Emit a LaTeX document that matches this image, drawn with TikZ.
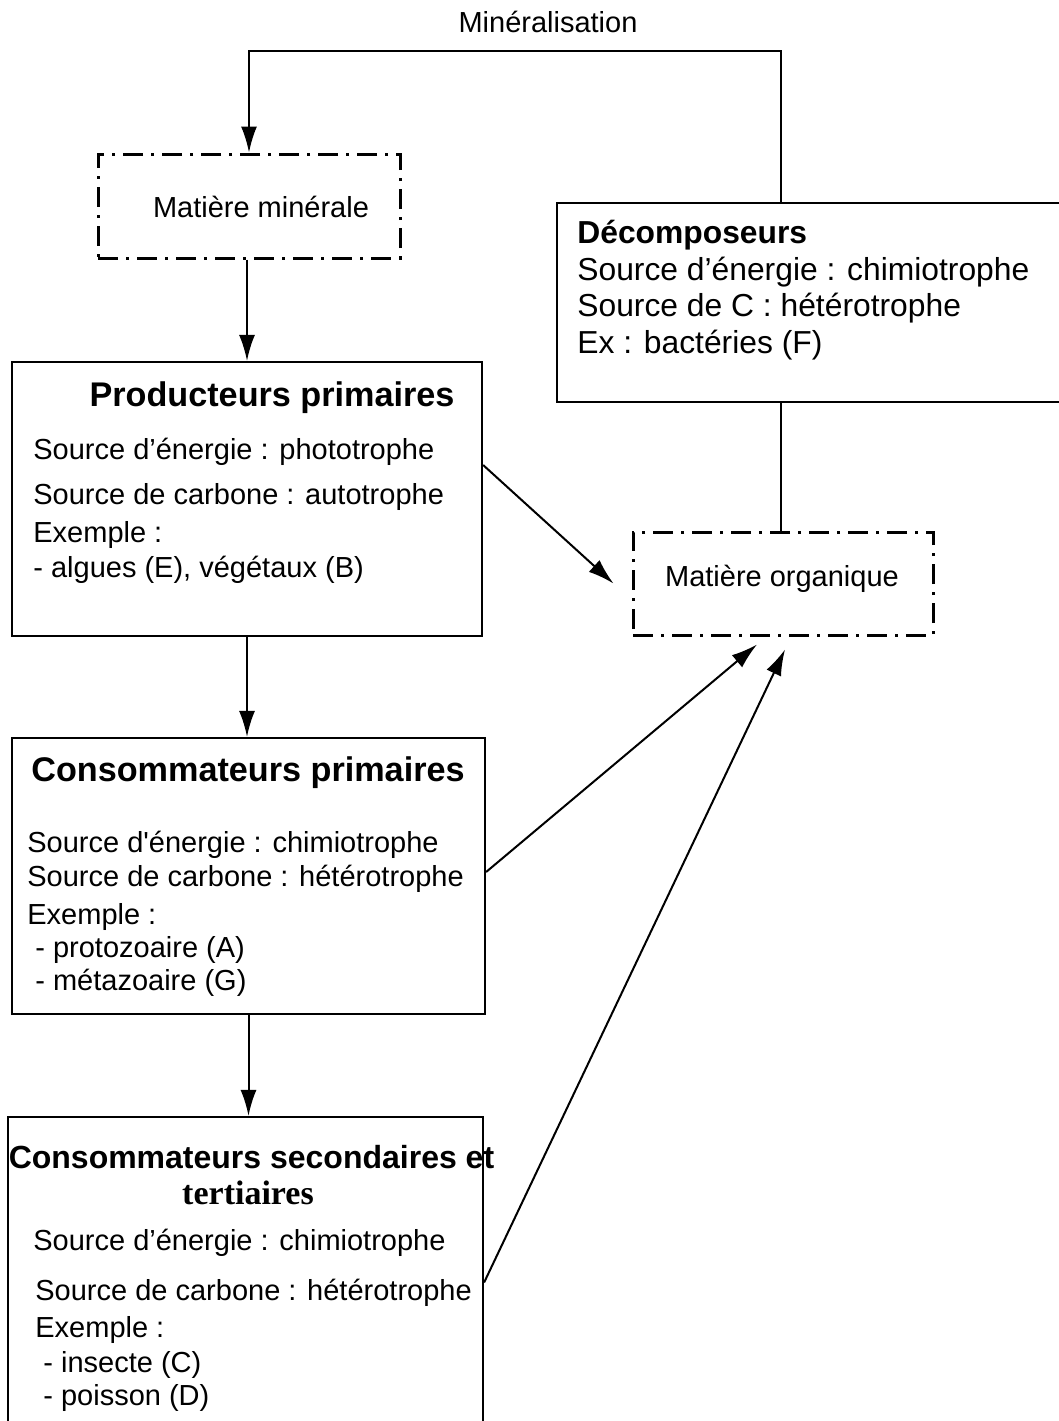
\documentclass[tikz,border=0pt]{standalone}
\usepackage{fontspec}
\setmainfont{Liberation Sans}
\newfontfamily\serifbf{Liberation Serif}
\usetikzlibrary{arrows.meta}

\tikzset{
  cadre/.style={draw, line width=1.1pt, inner sep=0pt},
  pointille/.style={draw, line width=1.5pt, inner sep=0pt,
    dash pattern=on 10pt off 4pt on 1.5pt off 4pt},
  fleche/.style={line width=1pt, -{Latex[length=13pt,width=8pt]}},
  trait/.style={line width=1pt},
  ligne/.style={anchor=west, inner sep=0pt, font=\fontsize{14.5}{17}\selectfont},
  lignedec/.style={anchor=west, inner sep=0pt, font=\fontsize{15.9}{19}\selectfont},
  titre/.style={inner sep=0pt, font=\fontsize{17.1}{20}\selectfont\bfseries},
}

\begin{document}
\begin{tikzpicture}[x=0.5pt,y=-0.5pt]
  \useasboundingbox (0,0) rectangle (1059,1421);

  %%%%%%%%%%%%%Matiere minerale et decomposeurs%%%%%%%%%%%%%%%%%%%%%%
  \node[pointille, minimum width=151pt, minimum height=52pt] (minmin) at (249,206) {};
  \node[ligne, anchor=center] (minmintxt) at (261,207) {Matière minérale};

  \node[cadre, minimum width=259pt, minimum height=99.5pt] (decomp) at (816,302.5) {};
  \node[lignedec, font=\fontsize{15.9}{19}\selectfont\bfseries] (dec0) at (577,235) {Décomposeurs};
  \node[lignedec] (dec1) at (577,272) {Source d’énergie : chimiotrophe};
  \node[lignedec] (dec2) at (577,308) {Source de C : hétérotrophe};
  \node[lignedec] (dec3) at (577,345) {Ex : bactéries (F)};

  \node[pointille, minimum width=150pt, minimum height=51.5pt] (matorg) at (783,583.5) {};
  \node[ligne, anchor=center] (matorgtxt) at (782,579) {Matière organique};

  %%%%%%%%%%%%%Producteurs%%%%%%%%%%%%%%%%%%%%%%
  \node[cadre, minimum width=235pt, minimum height=137pt] (prod) at (247,499) {};
  \node[titre] (prod0) at (272,398) {Producteurs primaires};
  \node[ligne] (prod1) at (33,452) {Source d’énergie : phototrophe};
  \node[ligne] (prod2) at (33,497) {Source de carbone : autotrophe};
  \node[ligne] (prod3) at (33,535) {Exemple :};
  \node[ligne] (prod4) at (33,570) {- algues (E), végétaux (B)};

  %%%%%%%%%%%%%Consommateurs primaires%%%%%%%%%%%%%%%%%%%%%%
  \node[cadre, minimum width=236.5pt, minimum height=138pt] (consprim) at (248.5,876) {};
  \node[titre] (cp0) at (248,773) {Consommateurs primaires};
  \node[ligne] (cp1) at (27,845) {Source d\textquotesingle énergie : chimiotrophe};
  \node[ligne] (cp2) at (27,879) {Source de carbone : hétérotrophe};
  \node[ligne] (cp3) at (27,917) {Exemple :};
  \node[ligne] (cp4) at (35,950) {- protozoaire (A)};
  \node[ligne] (cp5) at (35,983) {- métazoaire (G)};

  %%%%%%%%%%%%%Consommateurs secondaires%%%%%%%%%%%%%%%%%%%%%%
  \node[cadre, minimum width=237.5pt, minimum height=161.5pt] (conssec) at (245.5,1278.5) {};
  \node[titre, font=\fontsize{16}{19}\selectfont\bfseries] (cs0) at (251.5,1157) {Consommateurs secondaires et};
  \node[titre, font=\fontsize{17}{20}\serifbf\bfseries] (cs0b) at (248,1193) {tertiaires};
  \node[ligne] (cs1) at (33,1243) {Source d’énergie : chimiotrophe};
  \node[ligne] (cs2) at (35,1293) {Source de carbone : hétérotrophe};
  \node[ligne] (cs3) at (35,1330) {Exemple :};
  \node[ligne] (cs4) at (43,1365) {- insecte (C)};
  \node[ligne] (cs5) at (43,1398) {- poisson (D)};

  %%%%%%%%%%%%%Fleches%%%%%%%%%%%%%%%%%%%%%%
  \node[ligne, anchor=center] (mineralisation) at (548,22) {Minéralisation};
  \coordinate (coude) at (781,51);
  \draw[fleche] (coude |- decomp.north) -- (coude) -| (minmin.north);
  \draw[trait] (coude |- decomp.south) -- (coude |- matorg.north);

  \draw[fleche] (prod.north |- minmin.south) -- (prod.north);
  \draw[fleche] (prod.south) -- (prod.south |- consprim.north);
  \draw[fleche] (consprim.south) -- (consprim.south |- conssec.north);

  \draw[fleche] ([yshift=17pt]prod.east) -- ([xshift=-9pt]matorg.west);
  \draw[fleche] ([yshift=2pt]consprim.east) -- ([xshift=-13pt,yshift=-4pt]matorg.south);
  \draw[fleche] ([yshift=-2pt]conssec.east) -- ([xshift=1pt,yshift=-6.5pt]matorg.south);
\end{tikzpicture}
\end{document}
